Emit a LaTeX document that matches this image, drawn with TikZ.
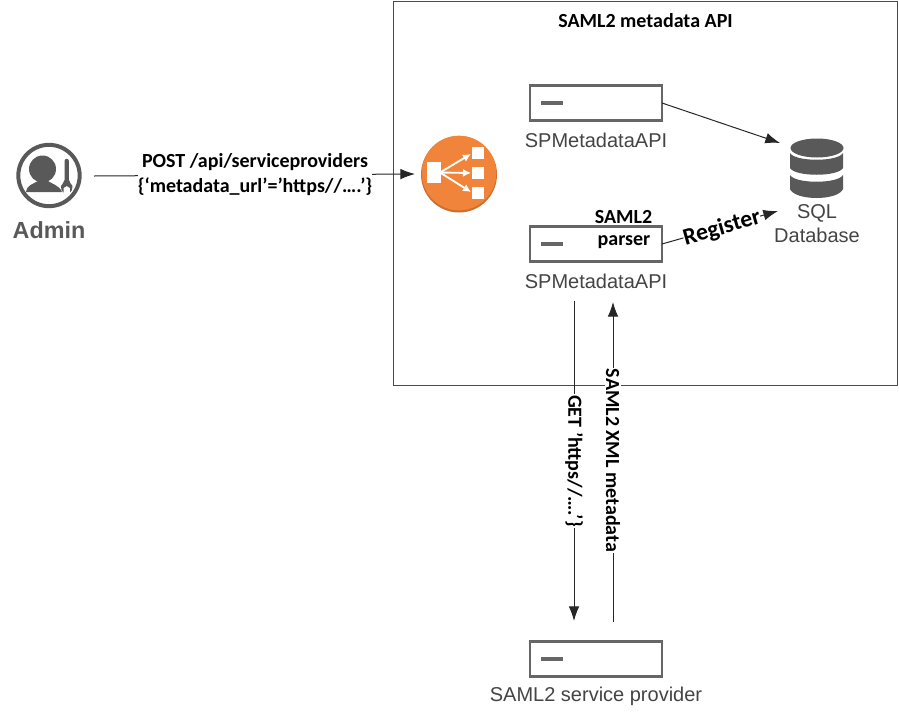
\documentclass[tikz,border=0pt]{standalone}
\usepackage{fontspec}
\setmainfont{Liberation Sans}
\newfontfamily\lblfont{Carlito}
\usetikzlibrary{arrows.meta}
\definecolor{icongray}{RGB}{89,89,89}
\definecolor{boxgray}{RGB}{102,102,102}
\definecolor{txtgray}{RGB}{68,68,68}
\definecolor{awsorange}{RGB}{240,132,58}
\definecolor{awsdark}{RGB}{205,110,45}
\tikzset{
  serverbox/.style={draw=boxgray,line width=2.2pt,fill=white,minimum width=99pt,minimum height=26pt,inner sep=0pt,outer sep=0pt},
  caption/.style={text=txtgray,font=\fontsize{15pt}{18pt}\selectfont,inner sep=0pt,align=center},
  lbl/.style={font=\lblfont\bfseries\fontsize{15pt}{18.7pt}\selectfont,text=black,inner sep=1pt,align=center},
  flow/.style={draw=black!85,line width=0.75pt,-{Latex[length=11pt,width=8pt]}},
  lbarrow/.style={white,line width=1.4pt,-{Latex[length=6pt,width=6pt]}},
  dbar/.style={draw=boxgray,line width=2.4pt}
}
\begin{document}
\begin{tikzpicture}[x=0.75pt,y=-0.75pt]
\useasboundingbox (0,0) rectangle (899,718);
\node[draw=black!70,line width=0.7pt,minimum width=378pt,minimum height=288pt,inner sep=0pt,outer sep=0pt] (apibox) at (645,193) {};
\node[lbl] (title) at (645.5,21) {SAML2 metadata API};

% servers
\node[serverbox] (srv1) at (596,103) {};
\node[serverbox] (srv2) at (596,244) {};
\node[serverbox] (srv3) at (596,659) {};
\draw[dbar] (541,103) -- (563,103);
\draw[dbar] (541,244) -- (563,244);
\draw[dbar] (541,659) -- (563,659);
\node[caption] (cap1) at (596,140) {SPMetadataAPI};
\node[caption] (cap2) at (596,281) {SPMetadataAPI};
\node[caption] (cap3) at (596,696) {SAML2 service provider};
\node[lbl] (parserA) at (623.5,217) {SAML2};
\node[lbl] (parserB) at (624,242) {parser};

% admin icon
\node[circle,draw=icongray,line width=3pt,minimum size=46pt,inner sep=0pt,outer sep=0pt] (admin) at (49,175.5) {};
\fill[icongray] (42.5,169) circle (13.5);
\fill[icongray] (26,192) .. controls (27,185) and (33,184) .. (38,181) -- (48,181) .. controls (52,184) and (59,185) .. (62,192) -- cycle;
\fill[icongray] (64.5,161) arc[start angle=180,end angle=360,radius=2.2] -- (68.9,180)
  .. controls (69,183) and (72,184) .. (72.5,186) .. controls (73,189) and (71,192) .. (70,192.5)
  -- (70,188) -- (66.7,186) -- (63.5,188) -- (63.5,192.5)
  .. controls (62,192) and (60.5,189) .. (61,186) .. controls (61.5,184) and (64.4,183) .. (64.5,180) -- cycle;
\node[font=\bfseries\fontsize{17.5pt}{20pt}\selectfont,text=icongray,inner sep=0pt] (admintxt) at (49,230) {Admin};

% load balancer
\fill[awsdark] (459,174.5) circle (38);
\node[circle,fill=awsorange,minimum size=56pt,inner sep=0pt,outer sep=0pt] (lb) at (459,173) {};
\fill[white] (427,162) rectangle (441,183);
\fill[white] (472,147) rectangle (484,159);
\fill[white] (472,167) rectangle (484,179);
\fill[white] (472,187) rectangle (484,199);
\draw[lbarrow] (440,172.5) -- (471,154);
\draw[lbarrow] (440,172.5) -- (471,173);
\draw[lbarrow] (440,172.5) -- (471,192);

% database
\coordinate (dbA) at (780,143);
\coordinate (dbB) at (778,211);
\fill[icongray] (817,148) ellipse[x radius=26.5,y radius=9.5];
\fill[icongray] (790,153) .. controls (795,162) and (838,162) .. (843,153) -- (843,168) .. controls (838,177) and (795,177) .. (790,168) -- cycle;
\fill[icongray] (790,175) .. controls (795,184) and (838,184) .. (843,175) -- (843,189) .. controls (838,201) and (795,201) .. (790,189) -- cycle;
\node[caption] (dbtxt) at (817,224) {SQL\\Database};

% connectors
\coordinate (lbIn) at (415,174);
\draw[flow] (94,176) -- (lbIn);
\node[lbl,fill=white,inner sep=0pt] (postlbl) at (255,175) {POST /api/serviceproviders\\\{‘metadata\_url’=’https//….’\}};
\draw[flow] (srv1.east) -- (dbA);
\draw[flow] (srv2.east) -- (dbB);
\node[lbl,fill=white,rotate=16,font=\lblfont\bfseries\fontsize{17.8pt}{20pt}\selectfont,inner sep=0pt] (reglbl) at (722,228) {Register};
\coordinate (getA) at (574,301);
\coordinate (getB) at (574,621);
\coordinate (xmlA) at (613,622);
\coordinate (xmlB) at (613,302);
\draw[flow] (getA) -- (getB);
\draw[flow] (xmlA) -- (xmlB);
\node[lbl,fill=white,rotate=-90,inner sep=1pt] (getlbl) at (574,461) {GET ’https//….’\}};
\node[lbl,fill=white,rotate=-90,inner sep=1pt] (xmllbl) at (613,460.5) {SAML2 XML metadata};
\end{tikzpicture}
\end{document}
